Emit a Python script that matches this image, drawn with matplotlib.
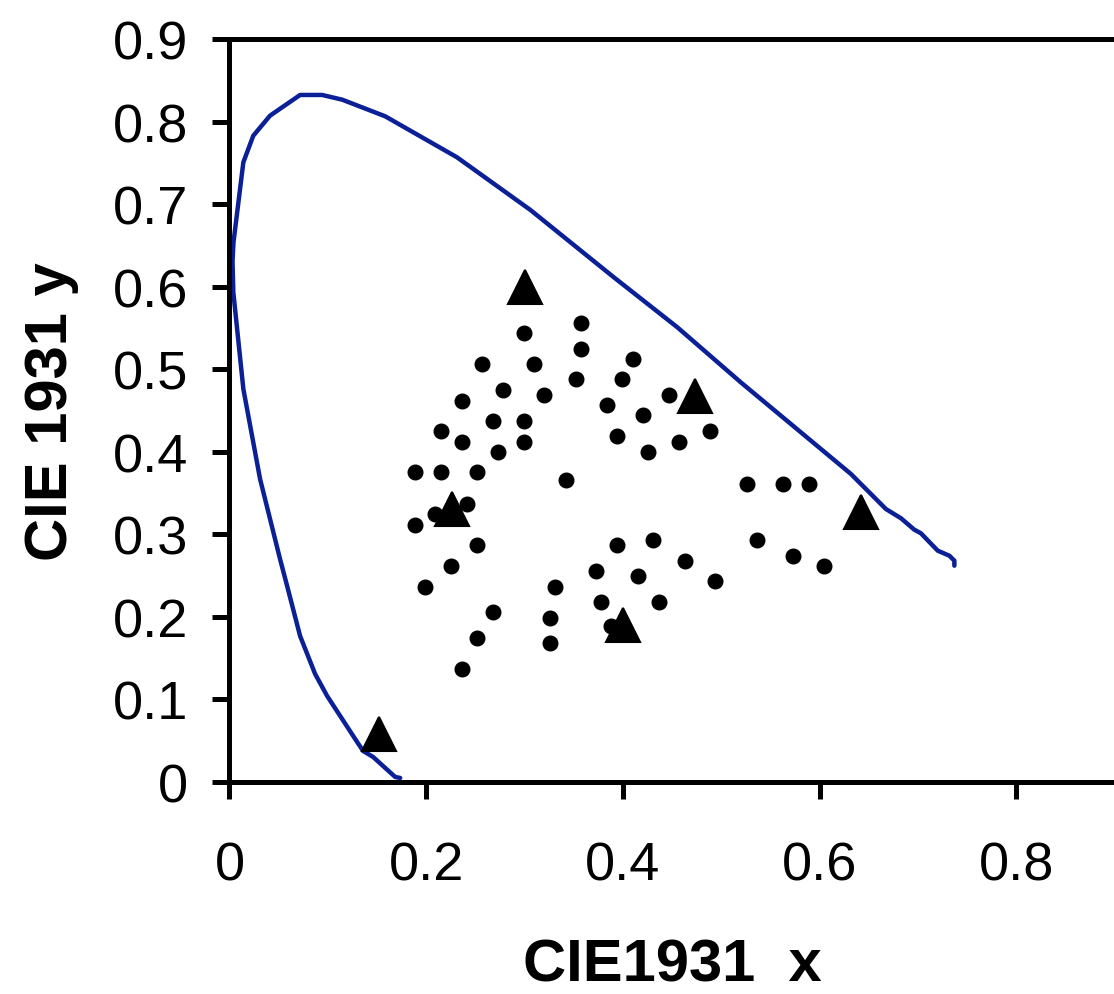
import matplotlib
matplotlib.use("Agg")
import matplotlib.pyplot as plt
from matplotlib import font_manager

# -------------------------------------------------------
# Data
# -------------------------------------------------------

# spectral locus outline (violet end -> red end)
locus_x = [0.1736, 0.1685, 0.1461, 0.1359, 0.1298, 0.0993, 0.0871, 0.0718,
           0.0586, 0.0514, 0.0311, 0.0141, 0.0039, 0.0031, 0.0041, 0.0141,
           0.0242, 0.0412, 0.0718, 0.0942, 0.1146, 0.1584, 0.2314, 0.3060,
           0.3908, 0.4554, 0.5199, 0.6319, 0.6675, 0.6828, 0.6963, 0.7031,
           0.7202, 0.7320, 0.7371, 0.7371]
locus_y = [0.0045, 0.0057, 0.0299, 0.0372, 0.0481, 0.1039, 0.1305, 0.1766,
           0.2373, 0.2699, 0.3669, 0.4760, 0.5932, 0.6312, 0.6542, 0.7508,
           0.7830, 0.8073, 0.8324, 0.8324, 0.8267, 0.8065, 0.7568, 0.6930,
           0.6114, 0.5508, 0.4841, 0.3730, 0.3305, 0.3193, 0.3055, 0.3011,
           0.2800, 0.2739, 0.2679, 0.2618]

# measured chromaticities
pts_x = [0.299, 0.357, 0.357, 0.257, 0.310, 0.410, 0.352, 0.399, 0.278, 0.236,
         0.320, 0.447, 0.384, 0.420, 0.268, 0.299, 0.215, 0.236, 0.299, 0.273,
         0.394, 0.457, 0.489, 0.426, 0.189, 0.215, 0.252, 0.342, 0.526, 0.563,
         0.589, 0.2415, 0.209, 0.189, 0.252, 0.2256, 0.199, 0.268, 0.252, 0.236,
         0.331, 0.3257, 0.3257, 0.394, 0.431, 0.373, 0.415, 0.463, 0.494, 0.378,
         0.4367, 0.3875, 0.5365, 0.5735, 0.6047]
pts_y = [0.5435, 0.556, 0.525, 0.506, 0.506, 0.512, 0.488, 0.488, 0.475, 0.462,
         0.469, 0.469, 0.456, 0.444, 0.437, 0.437, 0.425, 0.412, 0.412, 0.400,
         0.419, 0.412, 0.425, 0.400, 0.375, 0.375, 0.375, 0.366, 0.361, 0.361,
         0.361, 0.3366, 0.3245, 0.3115, 0.2865, 0.2615, 0.2364, 0.2053, 0.1738, 0.1362,
         0.2364, 0.1988, 0.1678, 0.2865, 0.293, 0.2554, 0.249, 0.268, 0.243, 0.218,
         0.218, 0.189, 0.293, 0.274, 0.2618]

# reference primaries
prim_x = [0.300, 0.473, 0.226, 0.642, 0.400, 0.152]
prim_y = [0.600, 0.468, 0.331, 0.327, 0.190, 0.058]

# -------------------------------------------------------
# Fonts
# -------------------------------------------------------

names = {f.name for f in font_manager.fontManager.ttflist}
label_font = "Liberation Sans Narrow" if "Liberation Sans Narrow" in names else "Liberation Sans"
plt.rcParams["font.family"] = "Liberation Sans"

# -------------------------------------------------------
# Plot
# -------------------------------------------------------

fig = plt.figure(figsize=(11.14, 9.95), dpi=100)
ax = fig.add_axes([0.206, 0.2134, 0.7945, 0.7462])

ax.plot(locus_x, locus_y, color="#0b1f96", linewidth=3.2, solid_joinstyle="round",
        solid_capstyle="round", zorder=2)
ax.plot(pts_x, pts_y, linestyle="none", marker="o", markersize=10.5,
        color="black", zorder=3)
ax.plot(prim_x, prim_y, linestyle="none", marker="^", markersize=24,
        color="black", markeredgewidth=1.5, zorder=4)

ax.set_xlim(0, 0.9)
ax.set_ylim(0, 0.9)
ax.set_xticks([0, 0.2, 0.4, 0.6, 0.8])
ax.set_xticklabels(["0", "0.2", "0.4", "0.6", "0.8"])
ax.set_yticks([0, 0.1, 0.2, 0.3, 0.4, 0.5, 0.6, 0.7, 0.8, 0.9])
ax.set_yticklabels(["0", "0.1", "0.2", "0.3", "0.4", "0.5", "0.6", "0.7", "0.8", "0.9"])

for side in ["left", "bottom", "top"]:
    ax.spines[side].set_linewidth(3.6)
ax.spines["right"].set_visible(False)
ax.tick_params(direction="out", length=12, width=3.6, labelsize=39)
ax.tick_params(axis="x", pad=30)
ax.tick_params(axis="y", pad=18)

ax.set_xlabel("CIE1931  x", fontsize=43, fontweight="bold", family=label_font,
              labelpad=34)
ax.set_ylabel("CIE 1931 y", fontsize=43, fontweight="bold", family=label_font,
              labelpad=24)

fig.savefig("out.png", dpi=100)
